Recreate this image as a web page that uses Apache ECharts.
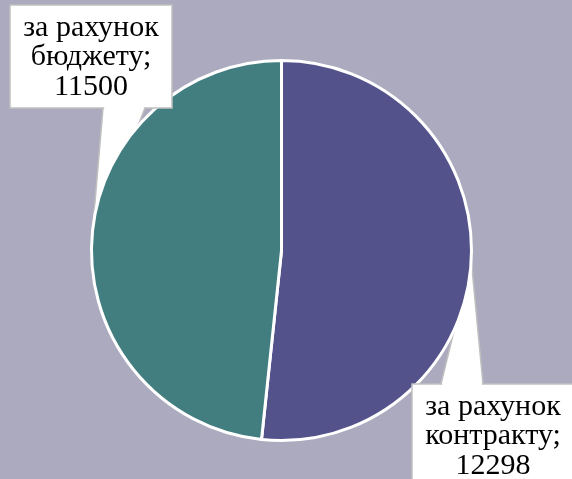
<!DOCTYPE html>
<html>
<head>
<meta charset="utf-8">
<script src="https://cdn.jsdelivr.net/npm/echarts@6/dist/echarts.min.js"></script>
<style>
html,body{margin:0;padding:0;background:#abaabe;}
#c{width:572px;height:479px;}
</style>
</head>
<body>
<div id="c"></div>
<script>
// Data
var categories = ['за рахунок контракту', 'за рахунок бюджету'];
var values = [12298, 11500];
var colors = ['#53528a', '#427e80'];

// Layout (positions / sizes only)
var CX = 281.5, CY = 250.5, R = 190;
var BOX_W = 162, BOX_H = 103;
var LINE_OFFSETS = [23, 52.5, 82];
var boxes = [
  {x: 412, y: 384, baseL: 441, baseR: 483, baseY: 384},   // contract callout (wedge on top edge)
  {x: 10,  y: 5,   baseL: 103, baseR: 145, baseY: 108}    // budget callout (wedge on bottom edge)
];

var chart = echarts.init(document.getElementById('c'), null, {renderer: 'canvas'});

var total = values.reduce(function (a, b) { return a + b; }, 0);
var graphics = [];
var acc = 0;
for (var i = 0; i < values.length; i++) {
  var mid = 90 - 360 * (acc + values[i] / 2) / total;
  acc += values[i];
  var rad = mid * Math.PI / 180;
  var tx = CX + R * Math.cos(rad), ty = CY - R * Math.sin(rad);
  var b = boxes[i];
  var name = categories[i];
  var k = name.lastIndexOf(' ');
  var lines = [name.slice(0, k), name.slice(k + 1) + ';', String(values[i])];
  // pointer wedge (beneath the pie)
  graphics.push({
    type: 'polygon', z: 1,
    shape: {points: [[b.baseL, b.baseY], [tx, ty], [b.baseR, b.baseY]]},
    style: {fill: '#ffffff', stroke: '#c0c0c0', lineWidth: 1.5}
  });
  // callout box
  graphics.push({
    type: 'rect', z: 10,
    shape: {x: b.x, y: b.y, width: BOX_W, height: BOX_H},
    style: {fill: '#ffffff', stroke: '#c0c0c0', lineWidth: 1.5}
  });
  // open the box border where the wedge joins
  graphics.push({
    type: 'line', z: 11,
    shape: {x1: b.baseL + 1.2, y1: b.baseY, x2: b.baseR - 1.2, y2: b.baseY},
    style: {stroke: '#ffffff', lineWidth: 3}
  });
  // label text, one element per line
  for (var j = 0; j < lines.length; j++) {
    graphics.push({
      type: 'text', z: 12,
      x: b.x + BOX_W / 2, y: b.y + LINE_OFFSETS[j],
      style: {
        text: lines[j],
        font: '30px "Liberation Serif"',
        fill: '#000000',
        align: 'center',
        verticalAlign: 'middle'
      }
    });
  }
}

var data = categories.map(function (n, i) {
  return {name: n, value: values[i], itemStyle: {color: colors[i]}};
});

chart.setOption({
  backgroundColor: '#abaabe',
  animation: false,
  graphic: graphics,
  series: [{
    type: 'pie',
    z: 2,
    center: [CX, CY],
    radius: R,
    startAngle: 90,
    clockwise: true,
    itemStyle: {borderColor: '#ffffff', borderWidth: 3},
    label: {show: false},
    labelLine: {show: false},
    emphasis: {disabled: true},
    data: data
  }]
});
</script>
</body>
</html>
